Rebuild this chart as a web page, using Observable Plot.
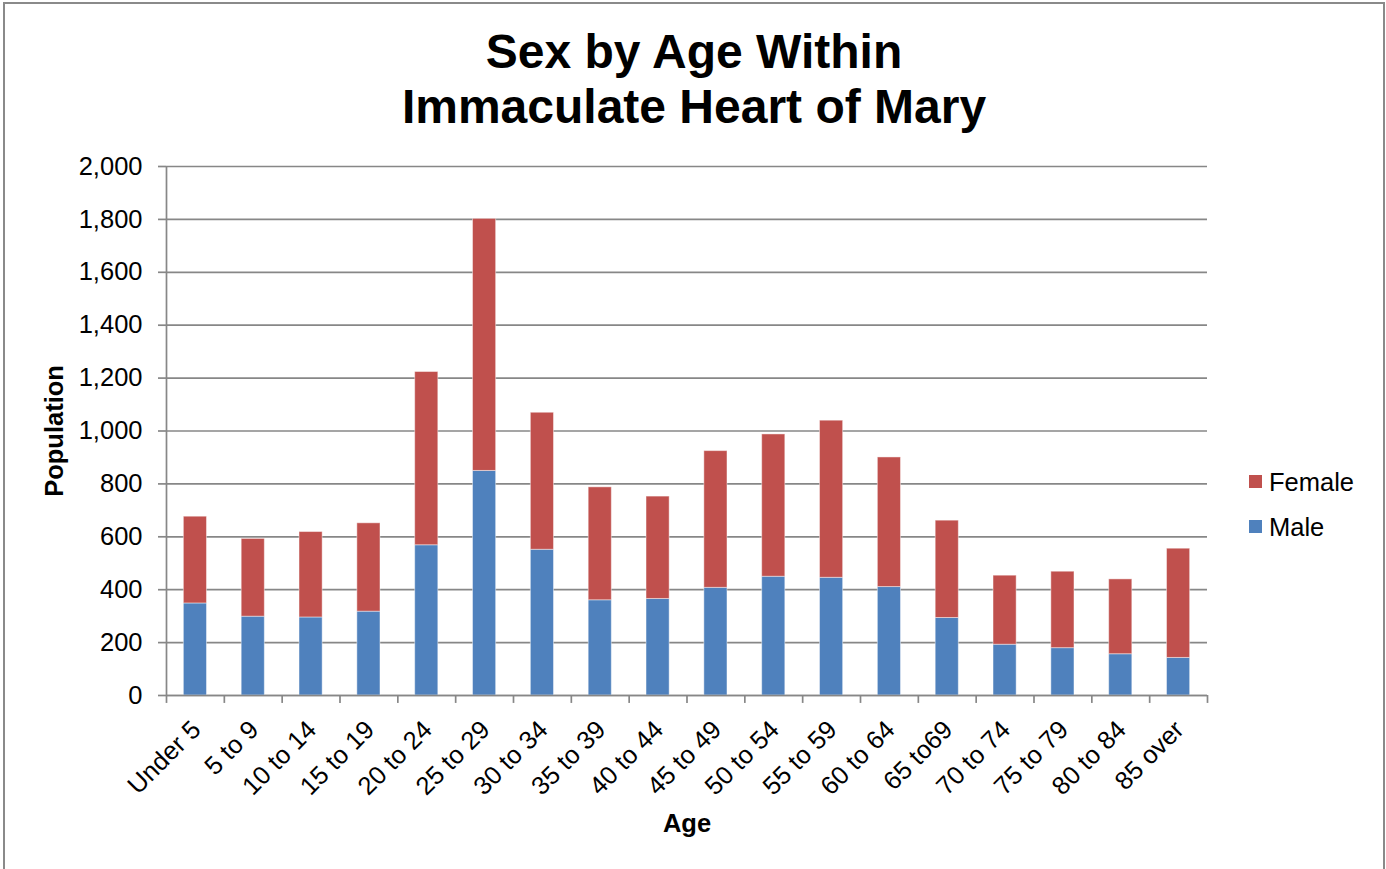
<!DOCTYPE html>
<html>
<head>
<meta charset="utf-8">
<script src="https://cdn.jsdelivr.net/npm/d3@7"></script>
<script src="https://cdn.jsdelivr.net/npm/@observablehq/plot@0.6"></script>
<style>
  html, body { margin: 0; padding: 0; background: #fff; }
  #wrap { position: relative; width: 1386px; height: 869px; overflow: hidden; font-family: "Liberation Sans", Arial, sans-serif; }
  #border { position: absolute; left: 3px; top: 2px; width: 1378px; height: 900px; border: 2px solid #8a8a8a; pointer-events: none; }
  #title { position: absolute; left: 0; top: 24px; width: 1388px; text-align: center; font-size: 48px; font-weight: bold; line-height: 55px; color: #000; }
  #chart { position: absolute; left: 0; top: 140px; }
  .leg { position: absolute; left: 1249px; font-size: 25.5px; line-height: 30px; color: #000; white-space: nowrap; }
  .leg span.sw { position: absolute; left: 0; top: 8px; width: 13px; height: 13px; }
  .leg span.lb { position: absolute; left: 20px; top: 0; }
</style>
</head>
<body>
<div id="wrap">
  <div id="title">Sex by Age Within<br>Immaculate Heart of Mary</div>
  <div id="chart"></div>
  <div id="legend"></div>
  <div id="border"></div>
</div>
<script>
const categories = ["Under 5","5 to 9","10 to 14","15 to 19","20 to 24","25 to 29","30 to 34","35 to 39","40 to 44","45 to 49","50 to 54","55 to 59","60 to 64","65 to69","70 to 74","75 to 79","80 to 84","85 over"];
const male   = [348, 298, 295, 317, 568, 849, 551, 360, 365, 407, 449, 445, 410, 293, 192, 179, 156, 142];
const female = [328, 294, 323, 334, 655, 953, 518, 427, 387, 517, 538, 594, 490, 368, 261, 289, 283, 413];
const seriesNames = ["Male", "Female"];
const seriesColors = ["#4F81BD", "#C0504D"];
const yTicks = [0, 200, 400, 600, 800, 1000, 1200, 1400, 1600, 1800, 2000];

const table = [];
categories.forEach((c, i) => table.push({age: c, sex: "Male", value: male[i]}));
categories.forEach((c, i) => table.push({age: c, sex: "Female", value: female[i]}));

const W = 1386, H = 729;
const mL = 166, mR = 179, mT = 26, mB = 174;
const step = (W - mL - mR) / categories.length;
const gridColor = "#878787";

const chart = Plot.plot({
  width: W,
  height: H,
  marginLeft: mL,
  marginRight: mR,
  marginTop: mT,
  marginBottom: mB,
  style: {fontFamily: "'Liberation Sans', Arial, sans-serif", fontSize: "25.5px", color: "#000", background: "transparent"},
  x: {domain: categories, paddingInner: 0.6, paddingOuter: 0.3, align: 0.5, round: false, axis: null},
  y: {domain: [0, 2000], axis: null},
  color: {domain: seriesNames, range: seriesColors},
  marks: [
    Plot.gridY(yTicks, {stroke: gridColor, strokeOpacity: 1, strokeWidth: 1.7}),
    Plot.barY(table, {x: "age", y: "value", fill: "sex", stroke: "#fff", strokeOpacity: 0.45, strokeWidth: 1}),
    // y axis line
    Plot.ruleX([categories[0]], {x: d => d, dx: -step / 2, y1: 0, y2: 2000, stroke: gridColor, strokeWidth: 1.7}),
    // x axis line
    Plot.ruleY([0], {stroke: gridColor, strokeWidth: 1.7}),
    // x boundary ticks
    Plot.ruleX(categories, {x: d => d, dx: -step / 2, y1: 0, y2: -30, stroke: gridColor, strokeWidth: 1.7}),
    Plot.ruleX([categories[categories.length - 1]], {x: d => d, dx: step / 2, y1: 0, y2: -30, stroke: gridColor, strokeWidth: 1.7}),
    // y axis ticks + labels
    Plot.axisY(yTicks, {tickFormat: d3.format(","), tickSize: 8, tickPadding: 16, fontSize: 25.5, stroke: gridColor, strokeWidth: 1.7, label: null}),
    // x tick labels
    Plot.text(categories, {x: d => d, frameAnchor: "bottom", rotate: -45, textAnchor: "end", lineAnchor: "middle", dx: 1, dy: 30, fontSize: 25.5, fill: "#000"}),
    // axis titles
    Plot.text(["Age"], {frameAnchor: "bottom", textAnchor: "middle", dy: 136, fontSize: 25.5, fontWeight: "bold", fill: "#000"}),
    Plot.text(["Population"], {frameAnchor: "left", rotate: -90, textAnchor: "middle", lineAnchor: "middle", dx: -112, fontSize: 25.5, fontWeight: "bold", fill: "#000"})
  ]
});
document.getElementById("chart").appendChild(chart);

// Legend (Female above Male, as in the original)
const legend = document.getElementById("legend");
const legendTops = {"Female": 467, "Male": 512};
["Female", "Male"].forEach(name => {
  const item = document.createElement("div");
  item.className = "leg";
  item.style.top = legendTops[name] + "px";
  const sw = document.createElement("span");
  sw.className = "sw";
  sw.style.background = seriesColors[seriesNames.indexOf(name)];
  const lb = document.createElement("span");
  lb.className = "lb";
  lb.textContent = name;
  item.appendChild(sw);
  item.appendChild(lb);
  legend.appendChild(item);
});
</script>
</body>
</html>
